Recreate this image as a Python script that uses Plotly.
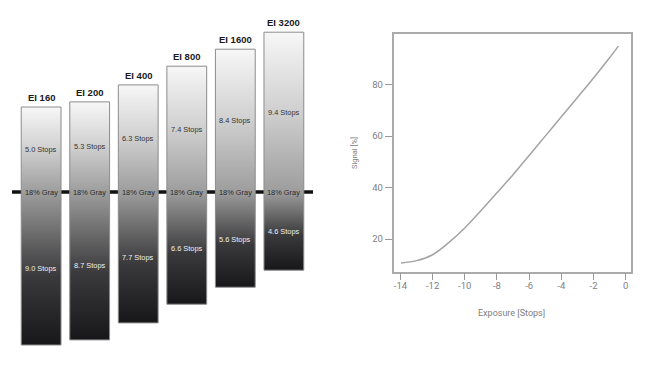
import plotly.graph_objects as go

# ---- data: left panel (dynamic range per exposure index) ----
ei_labels = ["EI 160", "EI 200", "EI 400", "EI 800", "EI 1600", "EI 3200"]
stops_over = [5.0, 5.3, 6.3, 7.4, 8.4, 9.4]
stops_under = [9.0, 8.7, 7.7, 6.6, 5.6, 4.6]
gray_label = "18% Gray"

# ---- data: right panel (signal curve) ----
exposure = [-13.96, -13.0, -12.0, -11.0, -10.0, -9.0, -8.0, -7.0, -6.0, -5.0, -4.0, -3.0, -2.0, -1.0, -0.45]
signal = [10.7, 11.6, 13.9, 18.6, 24.3, 31.0, 38.0, 45.0, 52.5, 60.0, 67.5, 75.0, 82.6, 90.5, 95.0]
x_ticks = [-14, -12, -10, -8, -6, -4, -2, 0]
x_tick_text = ["-14", "-12", "-10", "-8", "-6", "-4", "-2", "0"]
y_ticks = [20, 40, 60, 80]

W, H = 650, 366
fig = go.Figure()

half = 0.41
FONT_L = "Liberation Sans, Arial, sans-serif"
FONT_R = "Roboto, DejaVu Sans, sans-serif"

for i, (ov, un) in enumerate(zip(stops_over, stops_under)):
    frac = un / (ov + un)
    fig.add_trace(go.Scatter(
        x=[i - half, i + half, i + half, i - half, i - half],
        y=[-un, -un, ov, ov, -un],
        mode="lines", fill="toself",
        line=dict(color="#8c8c8c", width=1),
        fillgradient=dict(
            type="vertical", start=-un, stop=ov,
            colorscale=[[0, "#17171a"], [frac * 0.45, "#3a3a3c"], [frac, "#9d9d9d"],
                        [frac + (1 - frac) * 0.5, "#cfcfcf"], [1, "#f7f7f7"]],
        ),
        hoverinfo="skip", showlegend=False, xaxis="x", yaxis="y",
    ))
    fig.add_annotation(x=i, y=ov, xref="x", yref="y", text="<b>%s</b>" % ei_labels[i],
                       showarrow=False, yanchor="bottom", yshift=2,
                       font=dict(family=FONT_L, size=9.5, color="#1a1a1a"))
    fig.add_annotation(x=i, y=ov / 2, xref="x", yref="y", text="%.1f Stops" % ov,
                       showarrow=False, font=dict(family=FONT_L, size=7.4, color="#333333"))
    fig.add_annotation(x=i, y=-un / 2, xref="x", yref="y", text="%.1f Stops" % un,
                       showarrow=False, font=dict(family=FONT_L, size=7.4, color="#f0f0f0"))
    fig.add_annotation(x=i, y=0, xref="x", yref="y", text=gray_label,
                       showarrow=False, font=dict(family=FONT_L, size=7.4, color="#2a2a2a"))

# middle-gray reference line behind bars
fig.add_shape(type="line", xref="x", yref="y", x0=-0.6, x1=5.6, y0=0, y1=0,
              line=dict(color="#111111", width=3.5), layer="below")

# right panel curve
fig.add_trace(go.Scatter(x=exposure, y=signal, mode="lines", line=dict(color="#a3a3a3", width=1.5, shape="spline"),
                         hoverinfo="skip", showlegend=False, xaxis="x2", yaxis="y2"))

ax_common = dict(showline=True, mirror=True, linecolor="#ababab", linewidth=1.5, showgrid=False,
                 zeroline=False, ticks="outside", ticklen=7, tickwidth=1, tickcolor="#999999",
                 tickfont=dict(family=FONT_R, size=9.5, color="#808080"))

fig.update_layout(
    width=W, height=H, autosize=False,
    margin=dict(l=0, r=0, t=0, b=0),
    paper_bgcolor="white", plot_bgcolor="white",
    xaxis=dict(domain=[12 / W, 313 / W], range=[-0.6, 5.6], visible=False, fixedrange=True),
    yaxis=dict(domain=[0, 1], range=[-174 / 17, 192 / 17], visible=False, fixedrange=True),
    xaxis2=dict(domain=[393.5 / W, 631 / W], range=[-14.43, 0.33], anchor="y2",
                tickvals=x_ticks, ticktext=x_tick_text, ticklabelstandoff=-3, **ax_common),
    yaxis2=dict(domain=[1 - 271.7 / H, 1 - 34 / H], range=[7.3, 99.7], anchor="x2",
                tickvals=y_ticks, **ax_common),
)

fig.add_annotation(x=511 / W, y=1 - 312.7 / H, xref="paper", yref="paper", text="Exposure [Stops]",
                   xanchor="center", yanchor="middle",
                   showarrow=False, font=dict(family=FONT_R, size=9, color="#808080"))
fig.add_annotation(x=354 / W, y=1 - 153 / H, xref="paper", yref="paper", text="Signal [%]", textangle=-90,
                   xanchor="center", yanchor="middle",
                   showarrow=False, font=dict(family=FONT_R, size=7.5, color="#808080"))

fig.write_html("out.html", config={"displayModeBar": False},
               post_script="document.body.style.margin='0';document.body.style.overflow='hidden';")
